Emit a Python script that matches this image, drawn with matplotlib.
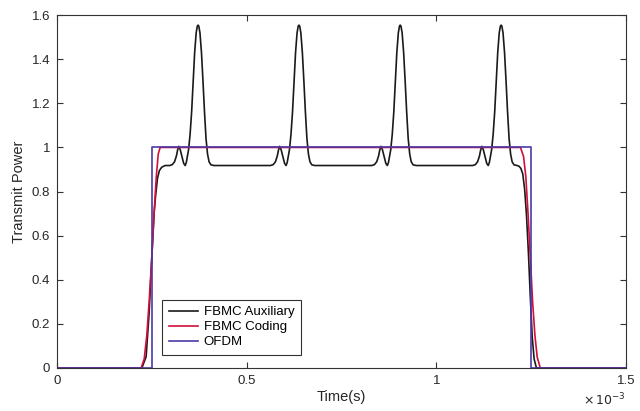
import numpy as np
import matplotlib.pyplot as plt
from matplotlib.ticker import FuncFormatter, MultipleLocator

plt.rcParams['font.family'] = ['Liberation Sans', 'DejaVu Sans']

# time in ms (axis is in seconds, scaled below)
# OFDM: ideal rectangle
ofdm_t = [0.0, 0.25, 0.25, 1.25, 1.25, 1.5]
ofdm_p = [0.0, 0.0, 1.0, 1.0, 0.0, 0.0]

# FBMC Coding: smooth ramps, flat at 1
coding_t = [0.0, 0.222, 0.230, 0.237, 0.243, 0.250, 0.256, 0.262, 0.267, 0.272,
            1.222, 1.230, 1.236, 1.242, 1.248, 1.254, 1.260, 1.266, 1.274, 1.5]
coding_p = [0.0, 0.0, 0.04, 0.15, 0.30, 0.50, 0.70, 0.87, 0.97, 1.0,
            1.0, 0.96, 0.87, 0.70, 0.50, 0.30, 0.15, 0.05, 0.0, 0.0]

# FBMC Auxiliary: ramp up, plateau ~0.92, four peaks, ramp down
aux_rise_t = [0.0, 0.224, 0.235, 0.243, 0.250, 0.256, 0.260, 0.265, 0.270, 0.276, 0.285]
aux_rise_p = [0.0, 0.0, 0.05, 0.25, 0.50, 0.70, 0.78, 0.86, 0.895, 0.91, 0.918]

burst_p = [0.918, 0.922, 0.935, 0.962, 0.988, 1.005, 0.990, 0.955, 0.928, 0.918,
           0.932, 0.962, 0.990, 1.060, 1.160, 1.300, 1.430, 1.520, 1.550, 1.555,
           1.550, 1.520, 1.430, 1.300, 1.160, 1.040, 0.970, 0.935, 0.921, 0.918]
burst1_t = [0.297, 0.304, 0.310, 0.315, 0.318, 0.321, 0.325, 0.330, 0.334, 0.338,
            0.341, 0.344, 0.347, 0.351, 0.355, 0.359, 0.363, 0.367, 0.370, 0.372,
            0.374, 0.377, 0.381, 0.385, 0.389, 0.393, 0.397, 0.401, 0.406, 0.414]
burst2_t = [0.563, 0.570, 0.576, 0.581, 0.584, 0.587, 0.591, 0.596, 0.600, 0.604,
            0.607, 0.610, 0.613, 0.617, 0.621, 0.625, 0.629, 0.633, 0.636, 0.638,
            0.640, 0.643, 0.647, 0.651, 0.655, 0.659, 0.663, 0.667, 0.672, 0.680]
burst3_t = [0.830, 0.837, 0.843, 0.848, 0.851, 0.854, 0.858, 0.863, 0.867, 0.871,
            0.874, 0.877, 0.880, 0.884, 0.888, 0.892, 0.896, 0.900, 0.903, 0.905,
            0.907, 0.910, 0.914, 0.918, 0.922, 0.926, 0.930, 0.934, 0.939, 0.947]
burst4_t = [1.096, 1.103, 1.109, 1.114, 1.117, 1.120, 1.124, 1.129, 1.133, 1.137,
            1.140, 1.143, 1.146, 1.150, 1.154, 1.158, 1.162, 1.166, 1.169, 1.171,
            1.173, 1.176, 1.180, 1.184, 1.188, 1.192, 1.196, 1.200, 1.205, 1.213]

aux_fall_t = [1.218, 1.223, 1.228, 1.233, 1.238, 1.243, 1.248, 1.253, 1.258, 1.264, 1.5]
aux_fall_p = [0.915, 0.905, 0.88, 0.81, 0.69, 0.52, 0.32, 0.14, 0.04, 0.0, 0.0]

aux_t = aux_rise_t + burst1_t + burst2_t + burst3_t + burst4_t + aux_fall_t
aux_p = aux_rise_p + burst_p * 4 + aux_fall_p

fig = plt.figure(figsize=(6.4, 4.11), dpi=100)
ax = fig.add_axes([0.089, 0.105, 0.889, 0.858])

ax.plot(np.array(aux_t) * 1e-3, aux_p, color='#1a1a1a', lw=1.2, label='FBMC Auxiliary')
ax.plot(np.array(coding_t) * 1e-3, coding_p, color='#d0103a', lw=1.2, label='FBMC Coding')
ax.plot(np.array(ofdm_t) * 1e-3, ofdm_p, color='#4a3aa8', lw=1.2, label='OFDM')

ax.set_xlim(0, 1.5e-3)
ax.set_ylim(0, 1.6)
ax.xaxis.set_major_locator(MultipleLocator(0.5e-3))
ax.yaxis.set_major_locator(MultipleLocator(0.2))
ax.xaxis.set_major_formatter(FuncFormatter(lambda v, p: '%g' % round(v * 1e3, 6)))
ax.yaxis.set_major_formatter(FuncFormatter(lambda v, p: '%g' % round(v, 6)))
ax.tick_params(direction='in', top=True, right=True, labelsize=9.5, length=4,
               color='#333333', labelcolor='#262626', pad=5)
for s in ax.spines.values():
    s.set_color('#333333')
    s.set_linewidth(0.8)

ax.set_xlabel('Time(s)', fontsize=10.5, color='#262626', labelpad=2)
ax.set_ylabel('Transmit Power', fontsize=10.5, color='#262626', labelpad=4)
ax.text(1.0, -0.09, r'$\times\,10^{-3}$', transform=ax.transAxes, ha='right', va='center',
        fontsize=9, color='#262626')

leg = ax.legend(loc='lower left', bbox_to_anchor=(0.185, 0.037), borderaxespad=0,
                fontsize=9.5, frameon=True, fancybox=False, framealpha=1,
                edgecolor='#333333', handlelength=2.2, handletextpad=0.45,
                borderpad=0.5, labelspacing=0.2)
leg.get_frame().set_linewidth(0.8)

fig.savefig('out.png', dpi=100, facecolor='white')
